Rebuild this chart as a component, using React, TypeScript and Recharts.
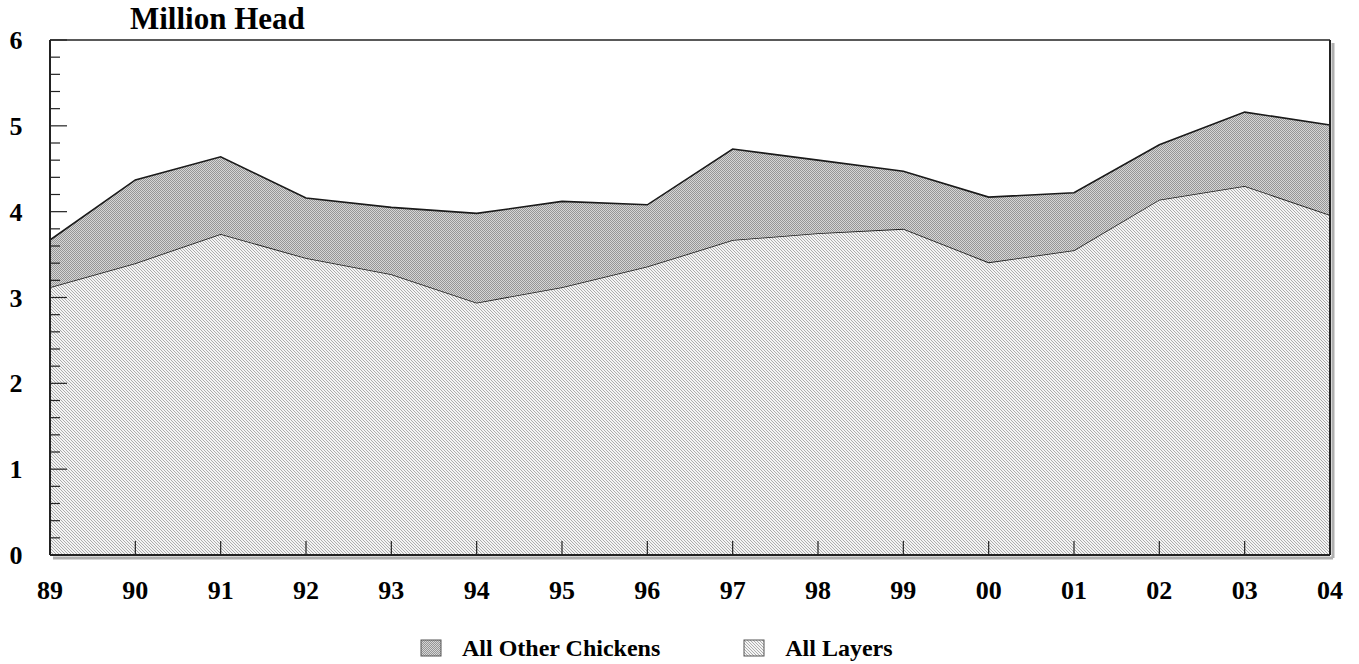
import { AreaChart, Area, XAxis, YAxis, ReferenceLine } from 'recharts';

const years = ['89', '90', '91', '92', '93', '94', '95', '96', '97', '98', '99', '00', '01', '02', '03', '04'];
const allLayers = [3.12, 3.4, 3.74, 3.46, 3.27, 2.94, 3.12, 3.36, 3.67, 3.75, 3.8, 3.41, 3.55, 4.14, 4.3, 3.96];
const allOtherChickens = [0.55, 0.97, 0.9, 0.7, 0.78, 1.04, 1.0, 0.72, 1.06, 0.85, 0.67, 0.76, 0.67, 0.64, 0.86, 1.05];
const yTicks = [0, 0.2, 0.4, 0.6, 0.8, 1, 1.2, 1.4, 1.6, 1.8, 2, 2.2, 2.4, 2.6, 2.8, 3, 3.2, 3.4, 3.6, 3.8, 4, 4.2, 4.4, 4.6, 4.8, 5, 5.2, 5.4, 5.6, 5.8, 6];
const seriesNames = ['All Other Chickens', 'All Layers'];

const data = years.map((y, i) => ({
  year: y,
  layers: allLayers[i],
  other: allOtherChickens[i],
}));

const FONT = '"Liberation Serif", "Times New Roman", serif';
const AXIS = '#222';

const Y_MARGIN = 34;
const X_MARGIN = 35;

function YTick(props: any) {
  const { x, y, payload } = props;
  const axisX = x + Y_MARGIN;
  const v = payload.value;
  const major = Math.abs(v - Math.round(v)) < 1e-6;
  return (
    <g>
      <line x1={axisX} y1={y} x2={axisX + (major ? 17 : 10)} y2={y} stroke={AXIS} strokeWidth={1.2} />
      {major && (
        <text x={x} y={y} dy="0.35em" textAnchor="middle" fontFamily={FONT} fontWeight="bold" fontSize={26} fill="#000">
          {v}
        </text>
      )}
    </g>
  );
}

function XTick(props: any) {
  const { x, y, payload } = props;
  const axisY = y - X_MARGIN;
  return (
    <g>
      <line x1={x} y1={axisY} x2={x} y2={axisY - 14} stroke={AXIS} strokeWidth={1.2} />
      <text x={x} y={y} dy="0.35em" textAnchor="middle" fontFamily={FONT} fontWeight="bold" fontSize={26} fill="#000">
        {payload.value}
      </text>
    </g>
  );
}

function Shadow(props: any) {
  const { x1, y1, x2, y2 } = props;
  return <line x1={x1 + 3} y1={y1 + 3} x2={x2 + 3} y2={y2 + 3} stroke="#b0b0b0" strokeWidth={3} />;
}

function LegendIcon({ pattern }: { pattern: string }) {
  return (
    <svg width={22} height={18} style={{ marginRight: 20 }}>
      <rect x={1} y={1} width={20} height={16} fill={`url(#${pattern})`} stroke="#555" strokeWidth={1} />
    </svg>
  );
}

export default function App() {
  return (
    <div style={{ position: 'fixed', left: 0, top: 0, width: 1359, height: 664, background: '#fff', fontFamily: FONT }}>
      <div style={{ position: 'absolute', left: 130, top: 1, fontSize: 31, fontWeight: 'bold', lineHeight: '36px' }}>
        Million Head
      </div>
      <AreaChart width={1359} height={664} data={data} margin={{ top: 40, right: 29, bottom: 69, left: 0 }}>
        <defs>
          <pattern id="patOther" patternUnits="userSpaceOnUse" width={2} height={2}>
            <rect width={2} height={2} fill="#d6d6d6" />
            <rect x={0} y={0} width={1} height={1} fill="#969696" />
            <rect x={1} y={1} width={1} height={1} fill="#969696" />
          </pattern>
          <pattern id="patLayers" patternUnits="userSpaceOnUse" width={3} height={3}>
            <rect width={3} height={3} fill="#f4f4f4" />
            <rect x={0} y={0} width={1} height={1} fill="#adadad" />
            <rect x={1} y={1} width={1} height={1} fill="#adadad" />
            <rect x={2} y={2} width={1} height={1} fill="#adadad" />
          </pattern>
        </defs>
        <XAxis
          dataKey="year"
          height={40}
          tickSize={0}
          tickMargin={X_MARGIN}
          tick={<XTick />}
          axisLine={{ stroke: AXIS, strokeWidth: 2 }}
          interval={0}
        />
        <YAxis
          width={50}
          domain={[0, 6]}
          ticks={yTicks}
          interval={0}
          tickSize={0}
          tickMargin={Y_MARGIN}
          tick={<YTick />}
          axisLine={{ stroke: AXIS, strokeWidth: 2 }}
        />
        <ReferenceLine y={0} shape={<Shadow />} />
        <ReferenceLine x="04" shape={<Shadow />} />
        <Area
          type="linear"
          dataKey="layers"
          name={seriesNames[1]}
          stackId="a"
          stroke="#1a1a1a"
          strokeWidth={1.6}
          fill="url(#patLayers)"
          fillOpacity={1}
          isAnimationActive={false}
        />
        <Area
          type="linear"
          dataKey="other"
          name={seriesNames[0]}
          stackId="a"
          stroke="#1a1a1a"
          strokeWidth={1.6}
          fill="url(#patOther)"
          fillOpacity={1}
          isAnimationActive={false}
        />
        <ReferenceLine y={6} stroke={AXIS} strokeWidth={1.5} />
        <ReferenceLine x="04" stroke={AXIS} strokeWidth={2} />
        <ReferenceLine y={0} stroke={AXIS} strokeWidth={2} />
      </AreaChart>
      <div
        style={{
          position: 'absolute',
          left: 420,
          top: 634,
          display: 'flex',
          alignItems: 'center',
          fontSize: 24,
          fontWeight: 'bold',
          lineHeight: '28px',
        }}
      >
        <LegendIcon pattern="patOther" />
        <span style={{ marginRight: 83 }}>{seriesNames[0]}</span>
        <LegendIcon pattern="patLayers" />
        <span>{seriesNames[1]}</span>
      </div>
    </div>
  );
}
